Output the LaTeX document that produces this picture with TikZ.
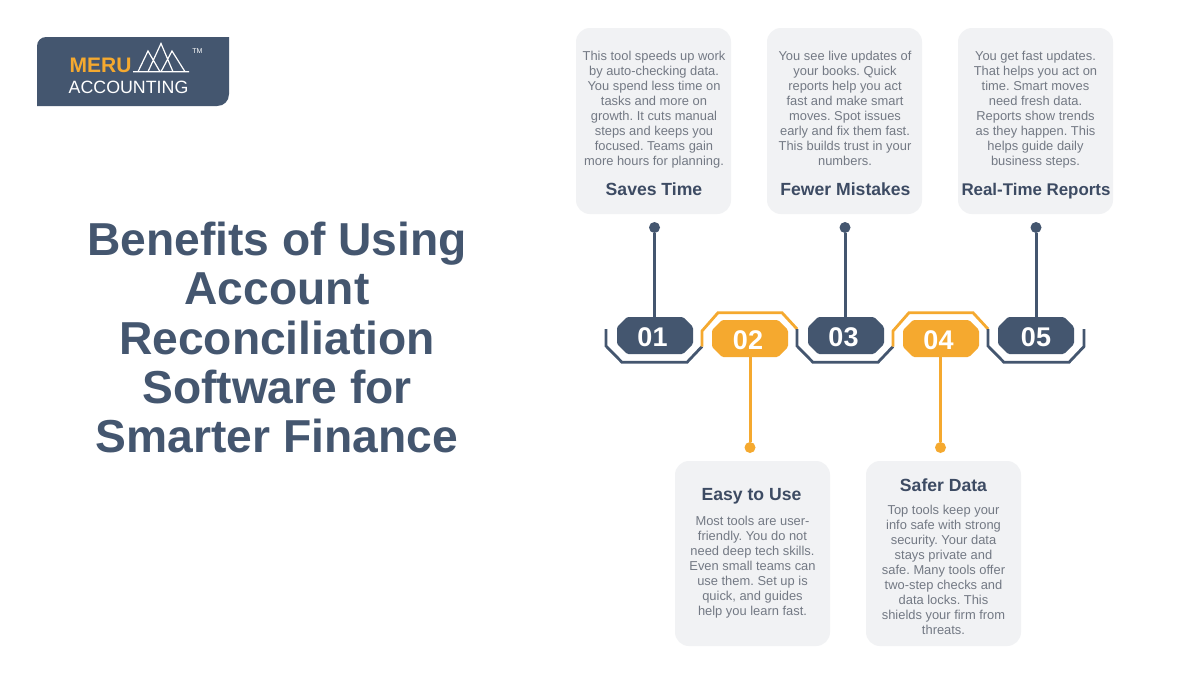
\documentclass[tikz,border=0pt]{standalone}
\usepackage{fontspec}
\setmainfont{Liberation Sans}
\frenchspacing
\definecolor{navy}{HTML}{44566F}
\definecolor{amber}{HTML}{F5A92F}
\definecolor{cardbg}{HTML}{F1F2F4}
\definecolor{bodytx}{HTML}{737984}
\definecolor{headtx}{HTML}{3D4B63}
\tikzset{
  card/.style={fill=cardbg,rounded corners=14pt,draw=none,inner sep=0pt,minimum width=155pt},
  bodytext/.style={text=bodytx,align=center,inner sep=0pt,font=\fontsize{12.9}{15}\selectfont,anchor=north},
  headtext/.style={text=headtx,inner sep=0pt,anchor=base,font=\bfseries\fontsize{17.6}{18}\selectfont},
  maintitle/.style={text=navy,align=center,inner sep=0pt,font=\bfseries\fontsize{46.2}{49.2}\selectfont},
  stem/.style={line width=3pt},
  endpoint/.style={circle,inner sep=0pt,minimum size=11pt},
  bracket/.style={line width=2.8pt,line cap=butt,line join=miter},
}
\newcommand{\octa}[6]{% name cx cy colour text text-offset
  \fill[#4,rounded corners=1.5pt] (#2-38,#3-18.5+10) -- ++(10,-10) -- ++(56,0) -- ++(10,10) -- ++(0,17) -- ++(-10,10) -- ++(-56,0) -- ++(-10,-10) -- cycle;
  \node[inner sep=0pt,minimum width=76pt,minimum height=37pt] (#1) at (#2,#3) {};
  \node[text=white,inner sep=0pt,font=\bfseries\fontsize{27}{27}\selectfont] (#1t) at ([xshift=#6,yshift=-1.5pt]#1.center) {#5};
}
\begin{document}
\begin{tikzpicture}[x=1pt,y=-1pt]
\useasboundingbox (0,0) rectangle (1200,675);
\fill[white] (0,0) rectangle (1200,675);
% logo
\fill[navy] (37,46) .. controls (37,41) and (41,37) .. (46,37) -- (229,37) -- (229,94) .. controls (229,101) and (224,106) .. (217,106) -- (37,106) -- cycle;
\node[inner sep=0pt,anchor=base west,text=amber,font=\bfseries\fontsize{21}{22}\selectfont] (lm) at (69.5,72.3) {MERU};
\node[inner sep=0pt,anchor=base west,text=white,font=\fontsize{17.8}{20}\selectfont] (la) at (68.5,93.3) {ACCOUNTING};
\node[inner sep=0pt,text=white,font=\fontsize{7}{8}\selectfont] (lt) at (197.5,51) {TM};
\draw[white,line width=1.2pt,line join=miter] (133,71.7) -- (189,71.7)
  (138,71.7) -- (148,51) -- (160,71.7)
  (148,71.7) -- (161,43.5) -- (173,71.7)
  (161,71.7) -- (172,51) -- (185,71.7);
% title
\node[maintitle] (title) at (277,337.5) {Benefits of Using\\Account\\Reconciliation\\Software for\\Smarter Finance};
% cards
\node[card,minimum height=186pt] (c1) at (653.5,121) {};
\node[card,minimum height=186pt] (c3) at (844.5,121) {};
\node[card,minimum height=186pt] (c5) at (1035.5,121) {};
\node[card,minimum height=185pt] (c2) at (752.5,553.5) {};
\node[card,minimum height=185pt] (c4) at (943.5,553.5) {};
% card texts
\node[bodytext] (t1) at (654,50.5) {This tool speeds up work\\by auto-checking data.\\You spend less time on\\tasks and more on\\growth. It cuts manual\\steps and keeps you\\focused. Teams gain\\more hours for planning.};
\node[headtext] (h1t) at (654,195) {Saves Time};
\node[bodytext] (t3) at (845,50.5) {You see live updates of\\your books. Quick\\reports help you act\\fast and make smart\\moves. Spot issues\\early and fix them fast.\\This builds trust in your\\numbers.};
\node[headtext] (h3t) at (845.5,195) {Fewer Mistakes};
\node[bodytext] (t5) at (1035.5,50.5) {You get fast updates.\\That helps you act on\\time. Smart moves\\need fresh data.\\Reports show trends\\as they happen. This\\helps guide daily\\business steps.};
\node[headtext,font=\bfseries\fontsize{16.9}{18}\selectfont] (h5t) at (1036,195) {Real-Time Reports};
\node[headtext] (h2t) at (751.5,500) {Easy to Use};
\node[bodytext] (t2) at (752.5,516) {Most tools are user-\\friendly. You do not\\need deep tech skills.\\Even small teams can\\use them. Set up is\\quick, and guides\\help you learn fast.};
\node[headtext] (h4t) at (943.5,491) {Safer Data};
\node[bodytext] (t4) at (943.5,504.5) {Top tools keep your\\info safe with strong\\security. Your data\\stays private and\\safe. Many tools offer\\two-step checks and\\data locks. This\\shields your firm from\\threats.};
% octagons
\octa{n1}{655}{335.5}{navy}{01}{-2.5pt}
\octa{n2}{750}{338.5}{amber}{02}{-2pt}
\octa{n3}{846}{335.5}{navy}{03}{-2.5pt}
\octa{n4}{941}{338.5}{amber}{04}{-2.5pt}
\octa{n5}{1036}{335.5}{navy}{05}{0pt}
% brackets
\draw[bracket,navy] (606,329) -- (606,346) -- (622,362.3) -- (687,362.3) -- (702,346.5);
\draw[bracket,amber] (702,346.5) -- (702,331) -- (718,312.7) -- (782,312.7) -- (797,329);
\draw[bracket,navy] (797,329) -- (797,346) -- (813,362.3) -- (878,362.3) -- (893,346.5);
\draw[bracket,amber] (893,346.5) -- (893,331) -- (909,312.7) -- (973,312.7) -- (988,329);
\draw[bracket,navy] (988,329) -- (988,346) -- (1004,362.3) -- (1069,362.3) -- (1084,346.5) -- (1084,329);
% stems
\node[endpoint,fill=navy] (d1) at (654.5,227.5) {};
\node[endpoint,fill=navy] (d3) at (845,227.5) {};
\node[endpoint,fill=navy] (d5) at (1036,227.5) {};
\node[endpoint,fill=amber] (d2) at (750,447.5) {};
\node[endpoint,fill=amber] (d4) at (940.5,447.5) {};
\draw[stem,navy] (d1) -- (d1|-n1.north);
\draw[stem,navy] (d3) -- (d3|-n3.north);
\draw[stem,navy] (d5) -- (d5|-n5.north);
\draw[stem,amber] (d2) -- (d2|-n2.south);
\draw[stem,amber] (d4) -- (d4|-n4.south);
\end{tikzpicture}
\end{document}
